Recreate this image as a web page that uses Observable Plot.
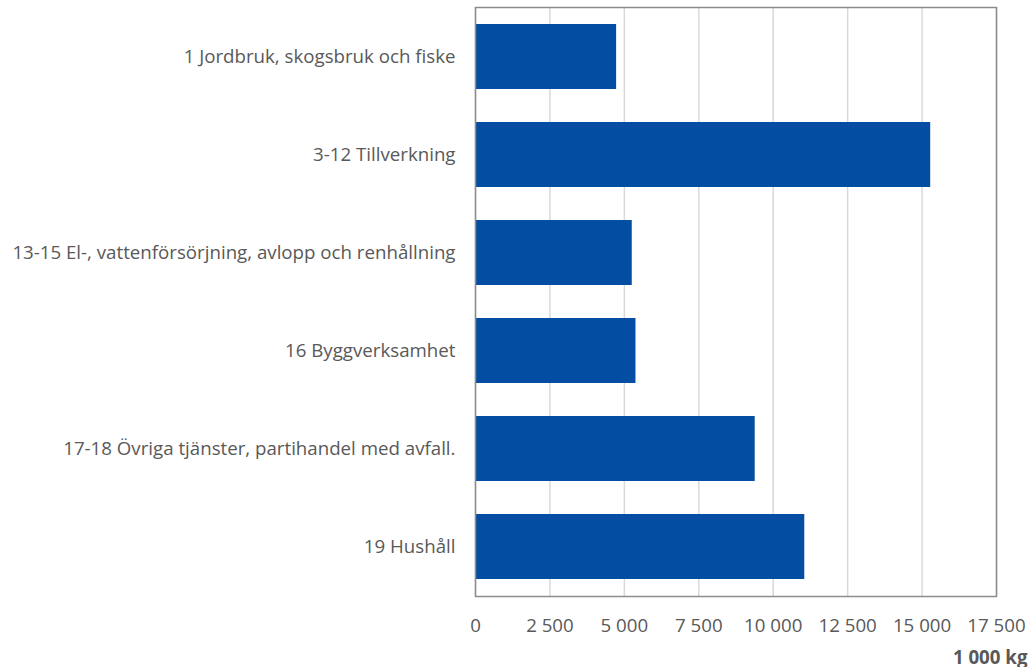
<!DOCTYPE html>
<html>
<head>
<meta charset="utf-8">
<script src="https://cdn.jsdelivr.net/npm/d3@7"></script>
<script src="https://cdn.jsdelivr.net/npm/@observablehq/plot@0.6"></script>
<style>
  html, body { margin: 0; padding: 0; background: #fff; }
  #chart svg { display: block; }
</style>
</head>
<body>
<div id="chart"></div>
<script>
const categories = [
  "1 Jordbruk, skogsbruk och fiske",
  "3-12 Tillverkning",
  "13-15 El-, vattenförsörjning, avlopp och renhållning",
  "16 Byggverksamhet",
  "17-18 Övriga tjänster, partihandel med avfall.",
  "19 Hushåll"
];
const values = [4740, 15290, 5265, 5390, 9395, 11060];
const xTicks = [0, 2500, 5000, 7500, 10000, 12500, 15000, 17500];
const unitLabel = "1 000 kg";

const data = categories.map((c, i) => ({category: c, value: values[i]}));
const fmt = d => d3.format(",")(d).replace(/,/g, " ");

const font = "'Open Sans', sans-serif";
const fs = 18.7;

const plot = Plot.plot({
  width: 1030,
  height: 667,
  marginLeft: 475,
  marginRight: 34,
  marginTop: 7,
  marginBottom: 71,
  style: {fontFamily: font, fontSize: fs + "px", color: "#595959", background: "#fff"},
  x: {domain: [0, 17500], ticks: xTicks, tickFormat: fmt, label: null},
  y: {domain: categories, paddingInner: 0.337, paddingOuter: 0.1685, label: null},
  marks: [
    Plot.gridX(xTicks, {stroke: "#d9d9d9", strokeOpacity: 1, strokeWidth: 1.5}),
    Plot.barX(data, {x: "value", y: "category", fill: "#034ea2"}),
    Plot.frame({stroke: "#8c8c8c", strokeWidth: 1.5}),
    Plot.axisX(xTicks, {tickSize: 0, tickPadding: 22, tickFormat: fmt, fill: "#595959", fontSize: fs, label: null}),
    Plot.axisY({tickSize: 0, tickPadding: 20, fill: "#595959", fontSize: fs, label: null}),
    Plot.text([unitLabel], {frameAnchor: "bottom-right", text: d => d, dx: 31, dy: 67, fontWeight: "bold", fill: "#595959", fontSize: fs, textAnchor: "end", lineAnchor: "bottom"})
  ]
});
document.getElementById("chart").append(plot);
</script>
</body>
</html>
